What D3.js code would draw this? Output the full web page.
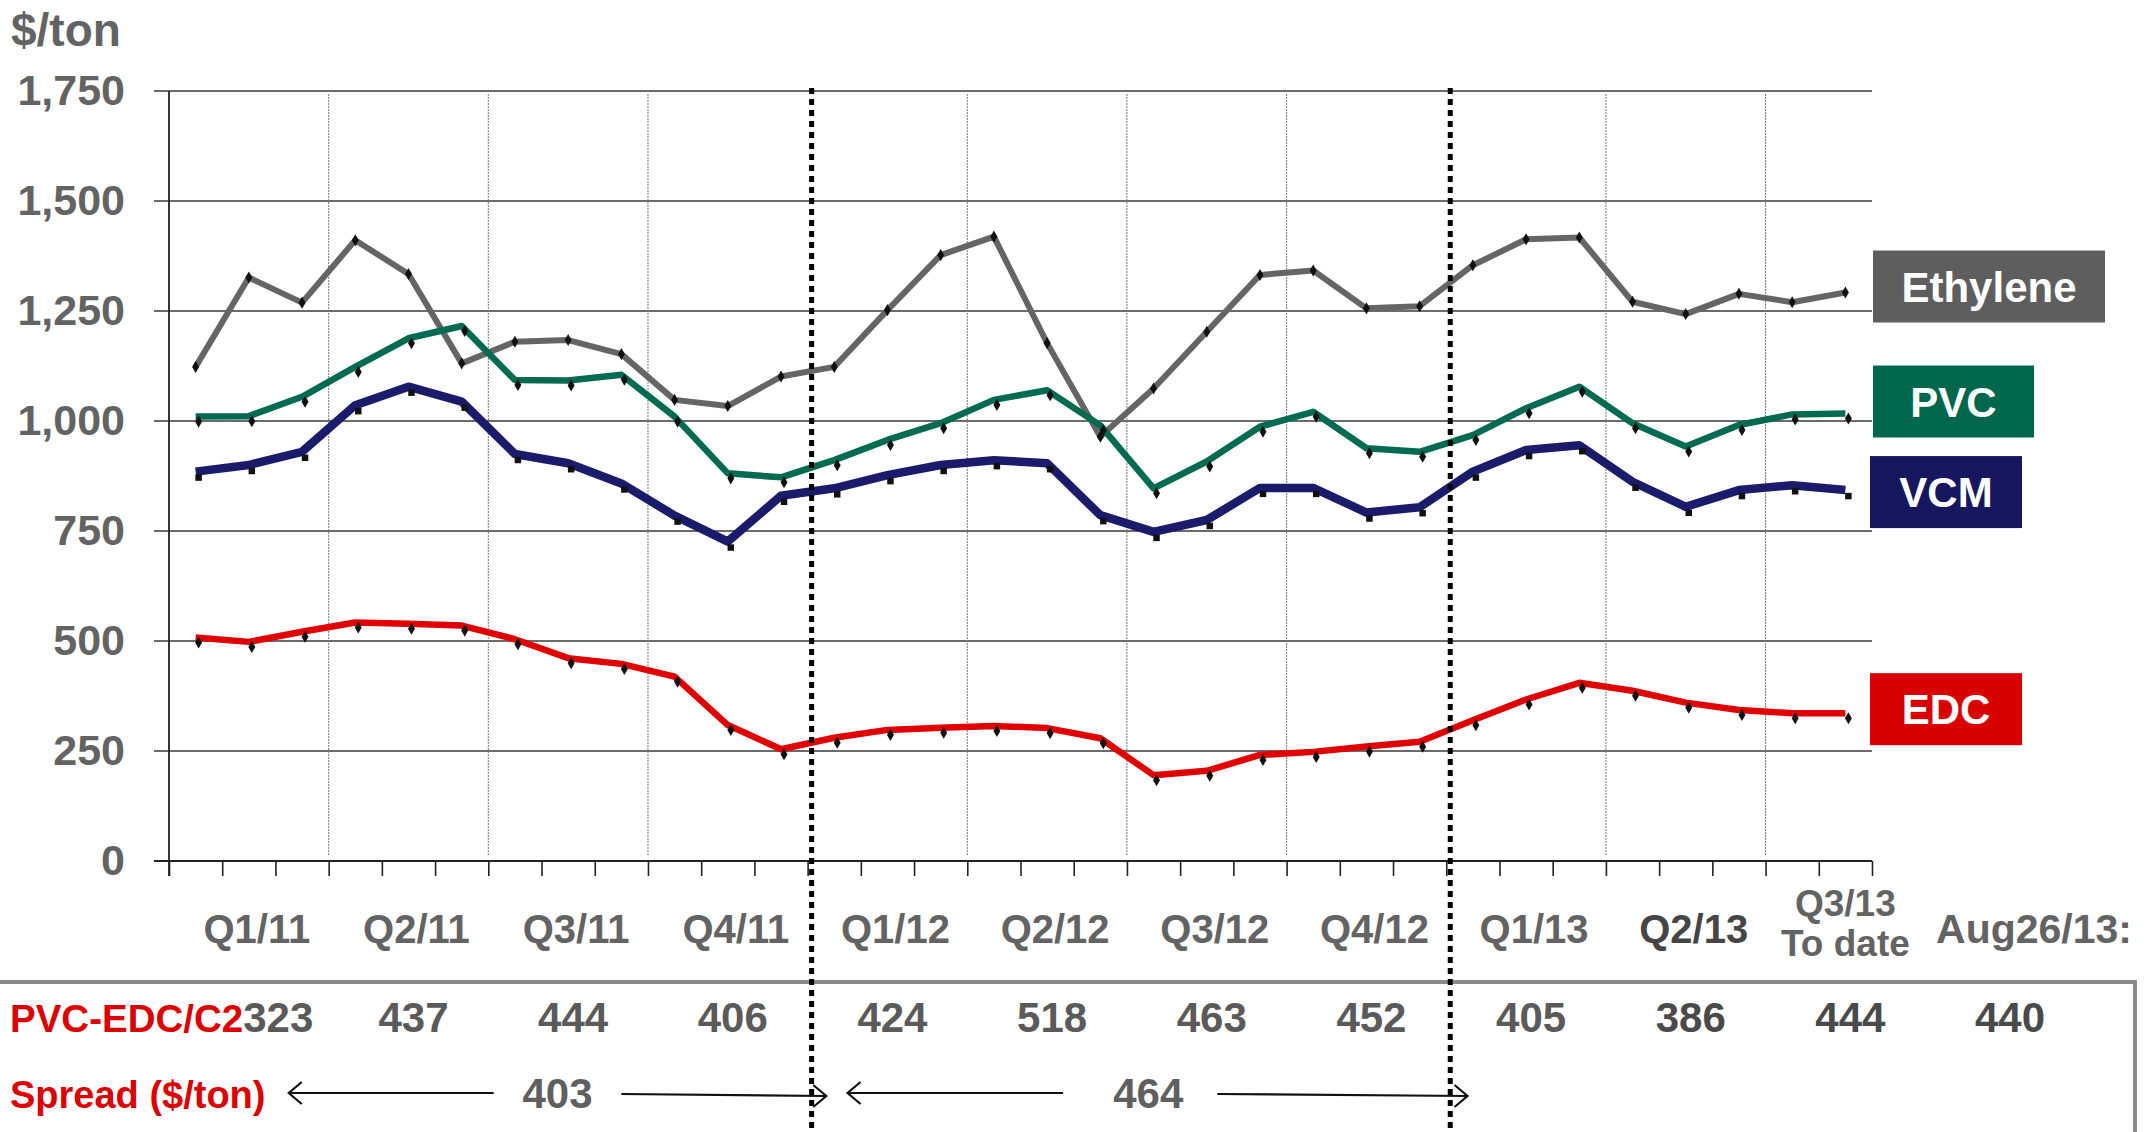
<!DOCTYPE html>
<html><head><meta charset="utf-8">
<script src="https://cdn.jsdelivr.net/npm/d3@7"></script>
<style>
body{margin:0;background:#fff}
svg{display:block}
text{font-family:"Liberation Sans",Arial,Helvetica,sans-serif;font-weight:bold}
</style>
</head><body>
<svg id="chart" width="2149" height="1132"></svg>
<script>
// ---------- data ----------
const months = ["Jan-11","Feb-11","Mar-11","Apr-11","May-11","Jun-11","Jul-11","Aug-11","Sep-11","Oct-11","Nov-11","Dec-11",
                "Jan-12","Feb-12","Mar-12","Apr-12","May-12","Jun-12","Jul-12","Aug-12","Sep-12","Oct-12","Nov-12","Dec-12",
                "Jan-13","Feb-13","Mar-13","Apr-13","May-13","Jun-13","Jul-13","Aug-13"];
const ethylene = [1123,1326,1269,1411,1334,1131,1180,1184,1152,1048,1034,1101,
                  1123,1252,1377,1419,1177,964,1074,1203,1332,1342,1256,1261,
                  1354,1413,1417,1271,1243,1289,1270,1292];
const pvc      = [1010,1011,1055,1123,1188,1216,1093,1092,1105,1010,881,872,
                  911,957,995,1048,1070,990,847,908,987,1021,938,930,
                  968,1029,1078,995,942,991,1015,1017];
const vcm      = [885,900,930,1036,1078,1044,925,904,858,785,726,830,
                  847,877,900,911,904,786,748,775,848,848,792,804,
                  885,934,945,862,805,843,854,843];
const edc      = [508,498,521,542,539,535,504,461,448,419,309,254,
                  280,298,303,307,302,279,195,205,241,248,260,271,
                  320,367,405,387,360,343,336,336];
const yTicks = [0,250,500,750,1000,1250,1500,1750];
const quarterLabels = ["Q1/11","Q2/11","Q3/11","Q4/11","Q1/12","Q2/12","Q3/12","Q4/12","Q1/13","Q2/13","Q3/13\nTo date","Aug26/13:"];
const spreadValues = [323,437,444,406,424,518,463,452,405,386,444,440];
const spreadYears = ["2011","2012"];
const yearSpread = [403,464];

// ---------- layout / styles ----------
const svg = d3.select("#chart");
const X0 = 169, X1 = 1872, Y0 = 861, Y1 = 91;
const x = d3.scaleLinear().domain([0, months.length]).range([X0, X1]);
const y = d3.scaleLinear().domain([0, 1750]).range([Y0, Y1]);
const mx = i => x(i + 0.5);
const qx = q => x(3 * q + 1.5);

const GREY_TXT = "#636363";
const RED_TXT = "#dd0000";

// horizontal gridlines
svg.append("g").selectAll("line").data(yTicks).join("line")
  .attr("x1", X0 - 15).attr("x2", X1)
  .attr("y1", d => y(d)).attr("y2", d => y(d))
  .attr("stroke", "#3a3a3a").attr("stroke-width", 1.6);

// y tick labels
const yAxis = d3.axisLeft(y).tickValues(yTicks).tickFormat(d3.format(",")).tickSize(0).tickPadding(44);
const ya = svg.append("g").attr("transform", `translate(${X0},0)`).call(yAxis);
ya.select(".domain").remove();
ya.selectAll("text").attr("font-size", 43).attr("fill", GREY_TXT)
  .style("font-family", '"Liberation Sans",Arial,sans-serif').style("font-weight", "bold");

// vertical minor gridlines at quarter boundaries (not year boundaries)
const quarterBounds = d3.range(3, months.length, 3).filter(m => m % 12 !== 0);
svg.append("g").selectAll("line").data(quarterBounds).join("line")
  .attr("x1", d => x(d)).attr("x2", d => x(d))
  .attr("y1", Y1 + 3).attr("y2", Y0 - 6)
  .attr("stroke", "#777").attr("stroke-width", 1).attr("stroke-dasharray", "2,1");

// x axis with month ticks
const xAxis = d3.axisBottom(x).tickValues(d3.range(0, months.length + 1)).tickSize(15).tickSizeOuter(0).tickFormat("");
const xa = svg.append("g").attr("transform", `translate(0,${Y0})`).call(xAxis);
xa.select(".domain").attr("d", `M${X0 - 15},0H${X1}`).attr("stroke", "#222").attr("stroke-width", 1.8);
xa.selectAll(".tick line").attr("stroke", "#222").attr("stroke-width", 1.6);

// y axis line
svg.append("line").attr("x1", X0).attr("x2", X0).attr("y1", Y1).attr("y2", Y0 + 15)
  .attr("stroke", "#222").attr("stroke-width", 1.8);

// unit label
svg.append("text").attr("x", 11).attr("y", 46).attr("font-size", 46).attr("fill", GREY_TXT).text("$/ton");

// series
const series = [
  {name: "Ethylene", values: ethylene, color: "#656565", width: 6,   sym: d3.symbolDiamond, off: [0, 0], box: "#5e5e5e", bw: 232, bx: 1873, dy: -6},
  {name: "PVC",      values: pvc,      color: "#006b50", width: 6.5, sym: d3.symbolDiamond, off: [3, 5], box: "#00664c", bw: 161, bx: 1873, dy: -12},
  {name: "VCM",      values: vcm,      color: "#1b1b6b", width: 8.5, sym: d3.symbolSquare,  off: [3, 6], box: "#17175f", bw: 152, bx: 1870, dy: 2},
  {name: "EDC",      values: edc,      color: "#e00000", width: 6.5, sym: d3.symbolDiamond, off: [3, 5], box: "#d80000", bw: 152, bx: 1870, dy: -4}
];
const line = d3.line().x((d, i) => mx(i)).y(d => y(d));
series.forEach(s => {
  const g = svg.append("g");
  g.append("path").datum(s.values).attr("d", line).attr("fill", "none")
    .attr("stroke", s.color).attr("stroke-width", s.width).attr("stroke-linejoin", "round");
  g.selectAll("path.m").data(s.values).join("path").attr("class", "m")
    .attr("d", d3.symbol(s.sym, 42))
    .attr("transform", (d, i) => `translate(${mx(i) + s.off[0]},${y(d) + s.off[1]})`)
    .attr("fill", "#111");
  // label box
  const last = s.values[s.values.length - 1];
  const cy = y(last) + s.dy;
  g.append("rect").attr("x", s.bx).attr("y", cy - 36).attr("width", s.bw).attr("height", 72).attr("fill", s.box);
  g.append("text").attr("x", s.bx + s.bw / 2).attr("y", cy + 15).attr("text-anchor", "middle")
    .attr("font-size", 42).attr("fill", "#fff").text(s.name);
});

// quarter labels
const ql = svg.append("g");
quarterLabels.forEach((lab, q) => {
  const parts = lab.split("\n");
  const cx = qx(q) + (q === 11 ? 29 : q === 10 ? 0 : 8);
  const t = ql.append("text").attr("text-anchor", "middle")
    .attr("fill", q === 9 ? "#454545" : GREY_TXT);
  if (parts.length === 1) {
    t.attr("x", cx).attr("y", 943).attr("font-size", q === 11 ? 41 : 40).text(lab);
  } else {
    t.attr("font-size", 37);
    parts.forEach((p, k) => t.append("tspan").attr("x", cx).attr("y", 916 + k * 40).text(p));
  }
});

// table box
svg.append("rect").attr("x", -10).attr("y", 982).attr("width", 2145).attr("height", 300)
  .attr("fill", "none").attr("stroke", "#8a8a8a").attr("stroke-width", 4);

// row 1
const lab1 = svg.append("text").attr("x", 10).attr("y", 1032).attr("font-size", 38.5).attr("fill", RED_TXT).text("PVC-EDC/C2");
const lab1End = 10 + lab1.node().getComputedTextLength();
svg.append("g").selectAll("text").data(spreadValues).join("text")
  .attr("x", (d, q) => q === 0 ? lab1End : qx(q) + 5)
  .attr("text-anchor", (d, q) => q === 0 ? "start" : "middle")
  .attr("y", 1032).attr("font-size", 42)
  .attr("fill", (d, q) => q >= 9 ? "#4a4a4a" : "#5a5a5a")
  .text(d => d);

// row 2
svg.append("text").attr("x", 10).attr("y", 1108).attr("font-size", 38).attr("fill", RED_TXT).text("Spread ($/ton)");
// annual spread arrows: [left arrow start, left arrow end, text, right arrow start, right arrow end] in month units
const arrowMonths = [[2.25, 6.1, 7.3, 8.5, 12.35], [12.75, 16.8, 18.4, 19.7, 24.4]];
const ag = svg.append("g");
yearSpread.forEach((v, k) => {
  const a = arrowMonths[k];
  const yl = 1093, yr = 1096;
  ag.append("line").attr("x1", x(a[0])).attr("x2", x(a[1])).attr("y1", yl).attr("y2", yl).attr("stroke", "#111").attr("stroke-width", 2.2);
  ag.append("path").attr("d", `M${x(a[0]) + 13},${yl - 11}L${x(a[0])},${yl}L${x(a[0]) + 13},${yl + 11}`)
    .attr("fill", "none").attr("stroke", "#111").attr("stroke-width", 2.2);
  ag.append("text").attr("x", x(a[2])).attr("y", 1108).attr("text-anchor", "middle")
    .attr("font-size", 42).attr("fill", "#5f5f5f").text(v);
  ag.append("line").attr("x1", x(a[3])).attr("x2", x(a[4])).attr("y1", yr - 2).attr("y2", yr).attr("stroke", "#111").attr("stroke-width", 2.2);
  ag.append("path").attr("d", `M${x(a[4]) - 13},${yr - 11}L${x(a[4])},${yr}L${x(a[4]) - 13},${yr + 11}`)
    .attr("fill", "none").attr("stroke", "#111").attr("stroke-width", 2.2);
});

// year separators (bold dotted)
svg.append("g").selectAll("line").data([12, 24]).join("line")
  .attr("x1", d => x(d) + 4).attr("x2", d => x(d) + 4).attr("y1", Y1 - 3).attr("y2", 1132)
  .attr("stroke", "#000").attr("stroke-width", 5).attr("stroke-dasharray", "6,5");
</script>
</body></html>
